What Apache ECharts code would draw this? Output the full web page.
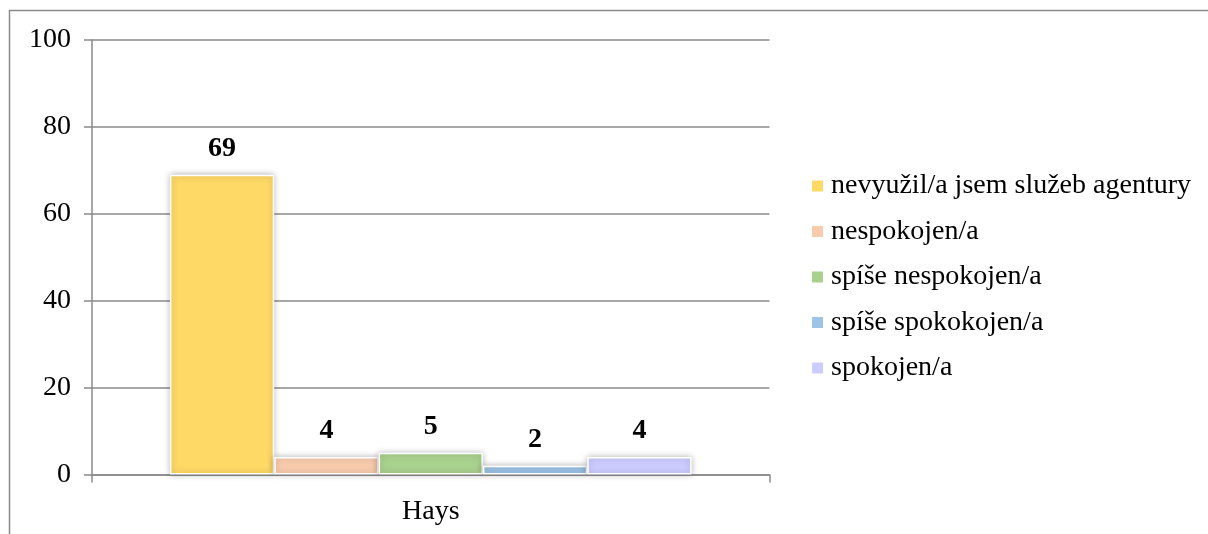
<!DOCTYPE html>
<html>
<head>
<meta charset="utf-8">
<script src="https://cdn.jsdelivr.net/npm/echarts@6/dist/echarts.min.js"></script>
<style>
  html, body { margin: 0; padding: 0; background: #fff; }
  #chart { width: 1208px; height: 534px; }
</style>
</head>
<body>
<div id="chart"></div>
<script>
// Agency: Hays — satisfaction answers
const categories = ['Hays'];
const seriesNames = [
  'nevyužil/a jsem služeb agentury',
  'nespokojen/a',
  'spíše nespokojen/a',
  'spíše spokokojen/a',
  'spokojen/a'
];
const seriesValues = [69, 4, 5, 2, 4];
const seriesColors = ['#FFD966', '#F8CBAD', '#A9D18E', '#9DC3E6', '#CCCCFF'];
const yTicks = { min: 0, max: 100, interval: 20 };

const FONT = '"Liberation Serif", "Times New Roman", serif';
const FONT_SIZE = 28;
const AXIS_GRAY = '#8a8a8a';

const chart = echarts.init(document.getElementById('chart'), null, { renderer: 'canvas' });

const series = seriesNames.map((name, i) => ({
  name: name,
  type: 'bar',
  data: [seriesValues[i]],
  barGap: '0%',
  barCategoryGap: '23%',
  itemStyle: {
    color: seriesColors[i],
    borderColor: '#ffffff',
    borderWidth: 1.5,
    shadowBlur: 6,
    shadowColor: 'rgba(0,0,0,0.28)'
  },
  label: {
    show: true,
    position: 'top',
    distance: 12,
    fontFamily: FONT,
    fontWeight: 'bold',
    fontSize: FONT_SIZE,
    color: '#000'
  }
}));

chart.setOption({
  animation: false,
  backgroundColor: '#fff',
  textStyle: { fontFamily: FONT },
  graphic: [{
    type: 'rect',
    silent: true,
    shape: { x: 9.5, y: 10.5, width: 1400, height: 800 },
    style: { fill: 'none', stroke: '#8a8a8a', lineWidth: 1.5 }
  }],
  grid: { left: 92, right: 438.5, top: 40, bottom: 59.5, containLabel: false },
  legend: {
    orient: 'vertical',
    left: 812,
    top: 171,
    padding: 0,
    icon: 'rect',
    itemWidth: 11,
    itemHeight: 11,
    itemGap: 15.5,
    itemStyle: { borderWidth: 0, shadowBlur: 0 },
    textStyle: {
      fontFamily: FONT,
      fontSize: FONT_SIZE,
      color: '#000',
      lineHeight: 30,
      padding: [0, 0, 0, 3]
    },
    data: seriesNames
  },
  xAxis: {
    type: 'category',
    data: categories,
    axisLine: { show: true, lineStyle: { color: AXIS_GRAY, width: 1.5 } },
    axisTick: { show: true, length: 8, lineStyle: { color: AXIS_GRAY, width: 1.5 } },
    axisLabel: { fontFamily: FONT, fontSize: FONT_SIZE, color: '#000', margin: 23 }
  },
  yAxis: {
    type: 'value',
    min: yTicks.min,
    max: yTicks.max,
    interval: yTicks.interval,
    axisLine: { show: true, lineStyle: { color: AXIS_GRAY, width: 1.5 } },
    axisTick: { show: true, length: 8, lineStyle: { color: AXIS_GRAY, width: 1.5 } },
    splitLine: { show: true, lineStyle: { color: AXIS_GRAY, width: 1.5 } },
    axisLabel: { fontFamily: FONT, fontSize: FONT_SIZE, color: '#000', margin: 21 }
  },
  series: series
});
</script>
</body>
</html>
